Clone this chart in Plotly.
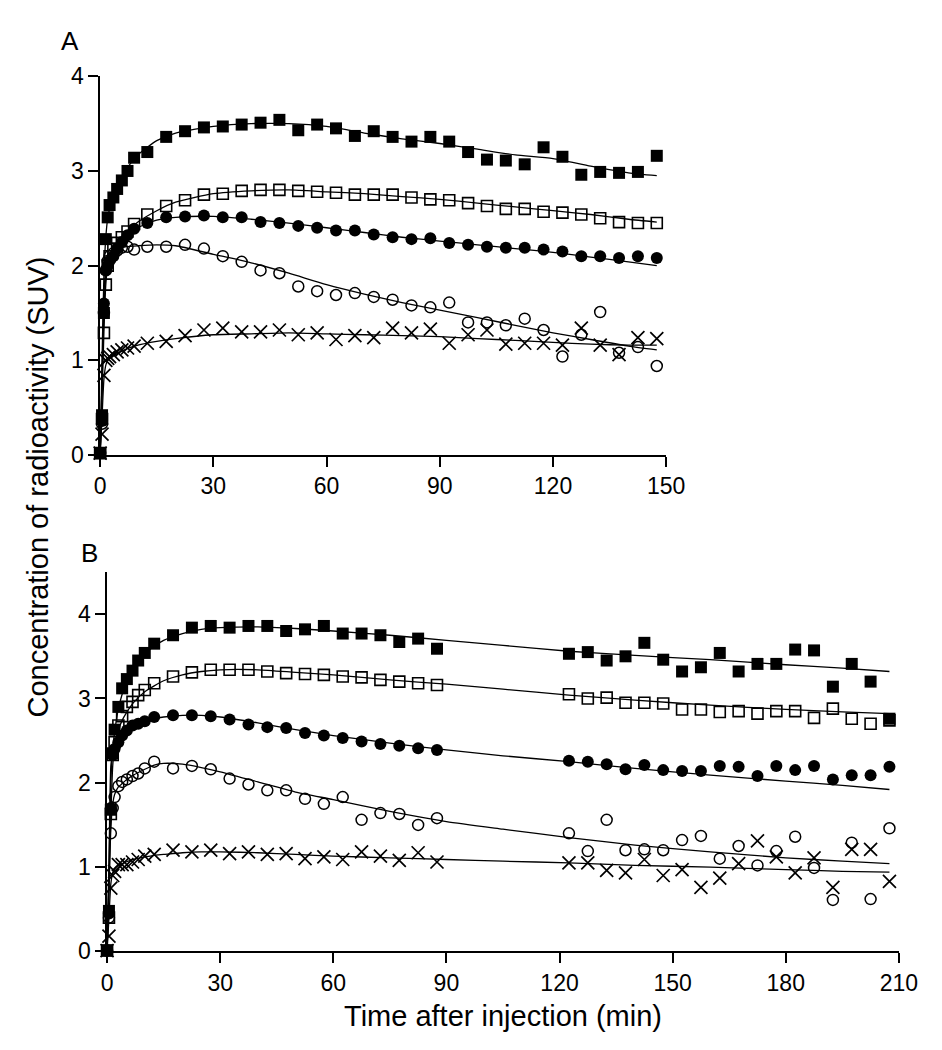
import plotly.graph_objects as go

# ---------------- Panel A data ----------------
TA = [0, 0.5, 1, 1.5, 2, 2.5, 3.5, 4.5, 5.75, 7.25, 9, 12.5,
      17.5, 22.5, 27.5, 32.5, 37.5, 42.5, 47.5, 52.5, 57.5,
      62.5, 67.5, 72.5, 77.5, 82.5, 87.5, 92.5, 97.5, 102.5, 107.5, 112.5,
      117.5, 122.5, 127.5, 132.5, 137.5, 142.5, 147.5]
FS_A = [0.02, 0.42, 1.50, 2.28, 2.51, 2.64, 2.72, 2.81, 2.90, 3.00, 3.14, 3.20,
        3.36, 3.42, 3.46, 3.47, 3.49, 3.51, 3.54, 3.43, 3.49,
        3.45, 3.37, 3.42, 3.36, 3.31, 3.36, 3.31, 3.20, 3.12, 3.11, 3.07, 3.25, 3.15, 2.96, 2.99, 2.98, 2.99, 3.16]
OS_A = [0.02, 0.38, 1.29, 1.80, 2.00, 2.10, 2.18, 2.24, 2.30, 2.36, 2.44, 2.54,
        2.63, 2.69, 2.75, 2.76, 2.79, 2.80, 2.80, 2.79, 2.78,
        2.77, 2.75, 2.75, 2.75, 2.72, 2.70, 2.69, 2.66, 2.63, 2.60, 2.60, 2.57, 2.56, 2.54, 2.50, 2.46, 2.45, 2.45]
FC_A = [0.02, 0.36, 1.60, 1.95, 2.00, 2.05, 2.10, 2.18, 2.25, 2.32, 2.39, 2.45,
        2.51, 2.52, 2.53, 2.51, 2.51, 2.46, 2.45, 2.42, 2.40,
        2.37, 2.37, 2.33, 2.30, 2.28, 2.29, 2.24, 2.22, 2.20, 2.19, 2.19, 2.17, 2.15, 2.10, 2.10, 2.08, 2.10, 2.08]
OC_A = [0.02, 0.33, 1.50, 1.95, 2.05, 2.10, 2.13, 2.16, 2.19, 2.20, 2.17, 2.20,
        2.20, 2.22, 2.18, 2.10, 2.04, 1.95, 1.92, 1.78, 1.73,
        1.69, 1.71, 1.67, 1.64, 1.58, 1.56, 1.61, 1.40, 1.40, 1.37, 1.44, 1.32, 1.04, 1.27, 1.51, 1.08, 1.14, 0.94]
X_A = [0.02, 0.22, 0.84, 1.00, 1.02, 1.04, 1.06, 1.09, 1.11, 1.13, 1.15, 1.18,
       1.20, 1.26, 1.32, 1.34, 1.30, 1.30, 1.32, 1.27, 1.29,
       1.22, 1.26, 1.24, 1.34, 1.29, 1.33, 1.18, 1.27, 1.32, 1.17, 1.18, 1.18, 1.16, 1.34, 1.16, 1.06, 1.24, 1.23]

# fitted curves, panel A
TFA = [0, 0.5, 1, 1.5, 2, 3, 4, 5, 7, 10, 15, 20, 30, 40, 50, 60, 70, 80, 90, 100, 110, 120, 130, 140, 147.5]
FSA_FIT = [0, 1.0, 1.9, 2.3, 2.5, 2.68, 2.8, 2.88, 3.02, 3.17, 3.32, 3.40, 3.47, 3.50, 3.50, 3.47, 3.40, 3.34, 3.29, 3.23, 3.17, 3.13, 3.05, 2.98, 2.95]
OSA_FIT = [0, 0.6, 1.3, 1.8, 2.0, 2.15, 2.22, 2.27, 2.35, 2.46, 2.58, 2.67, 2.76, 2.79, 2.80, 2.78, 2.76, 2.73, 2.70, 2.66, 2.62, 2.58, 2.54, 2.49, 2.46]
FCA_FIT = [0, 0.8, 1.7, 1.95, 2.03, 2.12, 2.17, 2.21, 2.30, 2.40, 2.48, 2.51, 2.52, 2.49, 2.45, 2.40, 2.35, 2.30, 2.26, 2.22, 2.18, 2.14, 2.09, 2.04, 2.00]
OCA_FIT = [0, 0.8, 1.5, 1.9, 2.02, 2.12, 2.16, 2.18, 2.20, 2.21, 2.22, 2.21, 2.12, 2.03, 1.92, 1.80, 1.70, 1.61, 1.53, 1.45, 1.37, 1.29, 1.22, 1.15, 1.11]
XA_FIT = [0, 0.4, 0.8, 0.95, 1.0, 1.04, 1.06, 1.08, 1.12, 1.16, 1.20, 1.23, 1.27, 1.28, 1.29, 1.28, 1.27, 1.26, 1.25, 1.23, 1.21, 1.19, 1.17, 1.16, 1.16]

# ---------------- Panel B data ----------------
TB = [0, 0.5, 1, 1.5, 2, 3, 4, 5.25, 6.75, 8.25, 10, 12.5,
      17.5, 22.5, 27.5, 32.5, 37.5, 42.5, 47.5, 52.5, 57.5, 62.5, 67.5, 72.5, 77.5, 82.5, 87.5,
      122.5, 127.5, 132.5, 137.5, 142.5, 147.5, 152.5, 157.5, 162.5, 167.5, 172.5, 177.5,
      182.5, 187.5, 192.5, 197.5, 202.5, 207.5]
FS_B = [0.01, 0.48, 1.68, 2.35, 2.63, 2.90, 3.12, 3.23, 3.33, 3.45, 3.54, 3.65,
        3.75, 3.84, 3.86, 3.84, 3.86, 3.86, 3.80, 3.82, 3.86, 3.77, 3.77, 3.75, 3.67, 3.71, 3.59,
        3.53, 3.55, 3.45, 3.50, 3.66, 3.46, 3.32, 3.37, 3.54, 3.32, 3.41, 3.41, 3.58, 3.57, 3.14, 3.41, 3.20, 2.76]
OS_B = [0.01, 0.40, 1.63, 2.33, 2.48, 2.68, 2.79, 2.90, 2.96, 3.04, 3.10, 3.18,
        3.26, 3.31, 3.34, 3.34, 3.34, 3.32, 3.30, 3.29, 3.28, 3.26, 3.25, 3.22, 3.20, 3.18, 3.16,
        3.05, 3.00, 3.01, 2.95, 2.95, 2.94, 2.87, 2.87, 2.84, 2.85, 2.82, 2.85, 2.85, 2.77, 2.88, 2.76, 2.70, 2.74]
FC_B = [0.01, 0.45, 1.70, 2.33, 2.40, 2.48, 2.56, 2.62, 2.68, 2.70, 2.73, 2.78,
        2.80, 2.80, 2.79, 2.75, 2.69, 2.66, 2.65, 2.59, 2.56, 2.53, 2.49, 2.46, 2.44, 2.41, 2.39,
        2.26, 2.25, 2.22, 2.16, 2.21, 2.15, 2.14, 2.14, 2.20, 2.19, 2.08, 2.20, 2.15, 2.20, 2.04, 2.09, 2.09, 2.19]
OC_B = [0.01, 0.40, 1.40, 1.70, 1.83, 1.96, 2.01, 2.04, 2.08, 2.11, 2.17, 2.25,
        2.17, 2.20, 2.16, 2.05, 1.98, 1.91, 1.91, 1.81, 1.75, 1.83, 1.56, 1.64, 1.63, 1.50, 1.58,
        1.40, 1.19, 1.56, 1.20, 1.21, 1.20, 1.32, 1.37, 1.10, 1.25, 1.02, 1.19, 1.36, 0.99, 0.61, 1.29, 0.62, 1.46]
X_B = [0.01, 0.18, 0.75, 0.90, 0.95, 1.03, 1.03, 1.03, 1.06, 1.09, 1.13, 1.15,
       1.20, 1.18, 1.20, 1.16, 1.18, 1.15, 1.16, 1.10, 1.12, 1.09, 1.18, 1.13, 1.08, 1.17, 1.06,
       1.05, 1.05, 0.96, 0.93, 1.09, 0.90, 0.97, 0.76, 0.87, 1.04, 1.31, 1.12, 0.93, 1.11, 0.76, 1.21, 1.21, 0.83]

TFB = [0, 0.5, 1, 1.5, 2, 3, 4, 5, 7, 10, 12.5, 15, 20, 25, 30, 40, 50, 60, 75, 90, 105, 122.5, 140, 160, 180, 195, 207.5]
FSB_FIT = [0, 1.0, 2.0, 2.4, 2.6, 2.88, 3.05, 3.18, 3.35, 3.53, 3.62, 3.69, 3.77, 3.82, 3.84, 3.85, 3.83, 3.80, 3.75, 3.69, 3.63, 3.56, 3.51, 3.46, 3.40, 3.36, 3.32]
OSB_FIT = [0, 0.8, 1.6, 2.2, 2.42, 2.62, 2.74, 2.82, 2.95, 3.08, 3.15, 3.21, 3.28, 3.32, 3.34, 3.34, 3.31, 3.28, 3.22, 3.17, 3.11, 3.04, 2.98, 2.92, 2.87, 2.84, 2.82]
FCB_FIT = [0, 1.0, 2.2, 2.35, 2.42, 2.52, 2.58, 2.62, 2.67, 2.73, 2.76, 2.78, 2.80, 2.80, 2.78, 2.71, 2.63, 2.56, 2.47, 2.39, 2.32, 2.25, 2.17, 2.09, 2.02, 1.97, 1.92]
OCB_FIT = [0, 0.7, 1.45, 1.75, 1.86, 1.95, 1.99, 2.03, 2.09, 2.16, 2.21, 2.23, 2.22, 2.18, 2.13, 2.01, 1.89, 1.80, 1.66, 1.54, 1.45, 1.35, 1.26, 1.18, 1.11, 1.07, 1.04]
XB_FIT = [0, 0.4, 0.8, 0.93, 0.98, 1.02, 1.04, 1.06, 1.09, 1.12, 1.14, 1.15, 1.17, 1.18, 1.18, 1.17, 1.15, 1.13, 1.11, 1.09, 1.07, 1.05, 1.02, 1.00, 0.97, 0.95, 0.94]

X_TICKS_A = [0, 30, 60, 90, 120, 150]
X_TICKS_B = [0, 30, 60, 90, 120, 150, 180, 210]
Y_TICKS = [0, 1, 2, 3, 4]

FONT = "Liberation Sans, Arial, sans-serif"
BLACK = "#000000"

SYMBOLS = [
    ("square", 12, 0),
    ("square-open", 11, 1.6),
    ("circle", 12, 0),
    ("circle-open", 11, 1.5),
    ("x-thin-open", 13, 1.7),
]

fig = go.Figure()

def add_panel(t, series, tf, fits, xa, ya):
    for fy in fits:
        fig.add_trace(go.Scatter(x=tf, y=fy, mode="lines", xaxis=xa, yaxis=ya,
                                 line=dict(color=BLACK, width=1.3, shape="spline", smoothing=0.6),
                                 showlegend=False, hoverinfo="skip", cliponaxis=False))
    for (sym, size, lw), vals in zip(SYMBOLS, series):
        fig.add_trace(go.Scatter(x=t, y=vals, mode="markers", xaxis=xa, yaxis=ya,
                                 marker=dict(symbol=sym, size=size, color=BLACK,
                                             line=dict(color=BLACK, width=lw)),
                                 showlegend=False, cliponaxis=False))

add_panel(TA, [FS_A, OS_A, FC_A, OC_A, X_A], TFA,
          [FSA_FIT, OSA_FIT, FCA_FIT, OCA_FIT, XA_FIT], "x", "y")
add_panel(TB, [FS_B, OS_B, FC_B, OC_B, X_B], TFB,
          [FSB_FIT, OSB_FIT, FCB_FIT, OCB_FIT, XB_FIT], "x2", "y2")

W, H = 942, 1050
axis_common = dict(showline=True, linecolor=BLACK, linewidth=1.5, ticks="outside",
                   ticklen=10, tickwidth=1.5, tickcolor=BLACK, showgrid=False, zeroline=False,
                   tickfont=dict(family=FONT, size=23, color=BLACK))

fig.update_layout(
    width=W, height=H,
    margin=dict(l=0, r=0, t=0, b=0),
    paper_bgcolor="white", plot_bgcolor="white",
    xaxis=dict(domain=[88.5 / W, 670 / W], range=[0, 150], tickvals=X_TICKS_A,
               anchor="y", **axis_common),
    yaxis=dict(domain=[1 - 445 / H, 1 - 56.7 / H], range=[0, 4], tickvals=Y_TICKS,
               anchor="x", **axis_common),
    xaxis2=dict(domain=[95.6 / W, 909 / W], range=[0, 210], tickvals=X_TICKS_B,
                anchor="y2", **axis_common),
    yaxis2=dict(domain=[1 - 954 / H, 1 - 565 / H], range=[0, 4.5], tickvals=Y_TICKS,
                anchor="x2", **axis_common),
    annotations=[
        dict(text="A", x=58 / W, y=1 - 20 / H, xref="paper", yref="paper", showarrow=False,
             font=dict(family=FONT, size=26, color=BLACK), xanchor="center", yanchor="middle"),
        dict(text="B", x=78 / W, y=1 - 545 / H, xref="paper", yref="paper", showarrow=False,
             font=dict(family=FONT, size=26, color=BLACK), xanchor="center", yanchor="middle"),
        dict(text="Concentration of radioactivity (SUV)", x=25 / W, y=1 - 478 / H,
             xref="paper", yref="paper", showarrow=False, textangle=-90,
             font=dict(family=FONT, size=29, color=BLACK), xanchor="center", yanchor="middle"),
        dict(text="Time after injection (min)", x=502 / W, y=1 - 1020 / H,
             xref="paper", yref="paper", showarrow=False,
             font=dict(family=FONT, size=29, color=BLACK), xanchor="center", yanchor="middle"),
    ],
)

fig.write_html("out.html")
